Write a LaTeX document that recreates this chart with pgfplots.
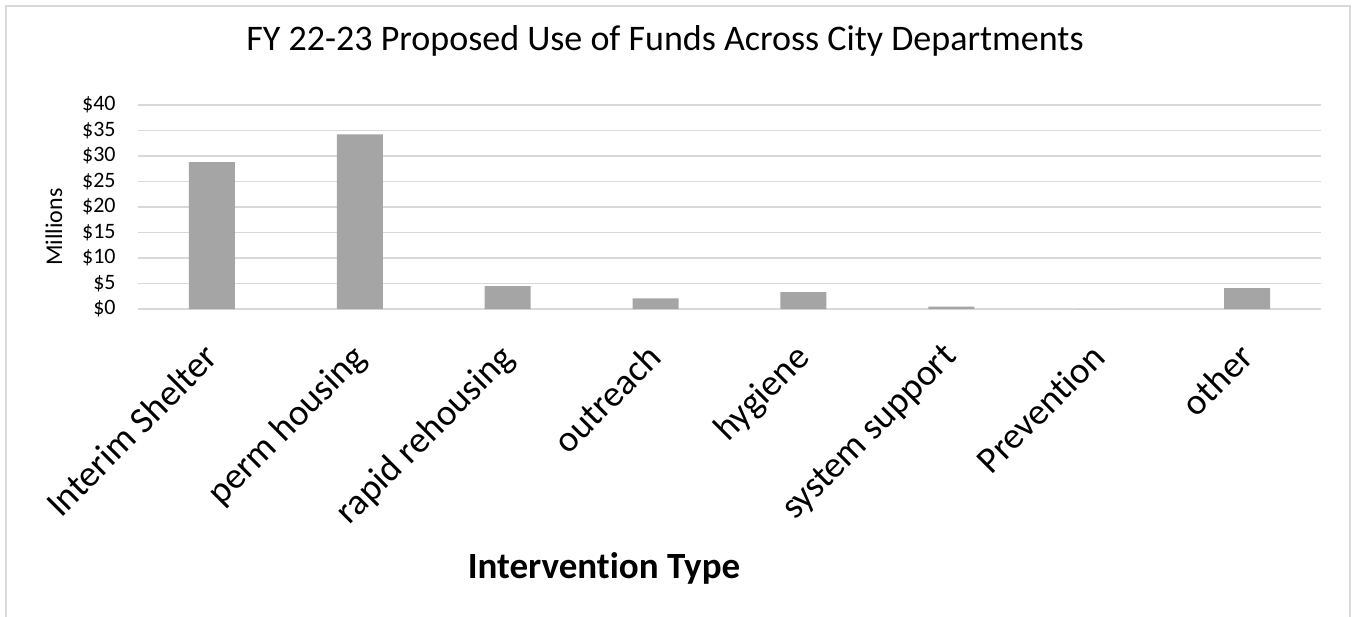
\documentclass[border=0pt]{standalone}
\usepackage{pgfplots}
\pgfplotsset{compat=1.18}
\usepackage{fontspec}
\setmainfont{Carlito}[Ligatures=NoCommon]
\definecolor{gridc}{HTML}{D9D9D9}
\definecolor{barc}{HTML}{A5A5A5}
\begin{document}
\begin{tikzpicture}
\path[use as bounding box] (0,0) rectangle (676.5pt,308pt);
\draw[gridc, line width=1pt] (3pt,-5pt) -- (3pt,305pt) -- (675pt,305pt) -- (675pt,-5pt);
\begin{axis}[
  at={(69pt,153.5pt)}, anchor=south west,
  scale only axis, width=591.5pt, height=102pt,
  ybar, bar width=23pt,
  xmin=-0.5, xmax=7.5, ymin=0, ymax=40,
  xtick={0,...,7},
  xticklabels={Interim Shelter, perm housing, rapid rehousing, outreach, hygiene, system support, Prevention, other},
  ytick={0,5,...,40},
  yticklabels={\$0,\$5,\$10,\$15,\$20,\$25,\$30,\$35,\$40},
  major tick length=0pt,
  axis line style={draw=none},
  ymajorgrids, grid style={gridc, line width=0.8pt},
  yticklabel style={font=\fontsize{11}{12}\selectfont, anchor=east, inner sep=0pt, xshift=-11pt},
  xticklabel style={font=\fontsize{18.5}{20}\selectfont, inner sep=0pt, xshift=-5pt, yshift=-16pt, rotate=45, anchor=north east},
  title={FY 22-23 Proposed Use of Funds Across City Departments},
  title style={font=\fontsize{18}{20}\selectfont, at={(axis description cs:0.4455,1.2108)}, anchor=base, inner sep=0pt},
  xlabel={\textbf{Intervention Type}},
  xlabel style={font=\fontsize{18.5}{20}\selectfont, at={(axis description cs:0.3939,-1.3235)}, anchor=base, inner sep=0pt},
  ylabel={Millions},
  ylabel style={font=\fontsize{12}{14}\selectfont, at={(axis description cs:-0.0642,0.402)}, anchor=base, inner sep=0pt},
  clip=false,
]
\addplot[fill=barc, draw=none] coordinates {
  (0,28.8) (1,34.25) (2,4.5) (3,2.1) (4,3.3) (5,0.45) (6,0) (7,4.1)
};
\end{axis}
\end{tikzpicture}
\end{document}
